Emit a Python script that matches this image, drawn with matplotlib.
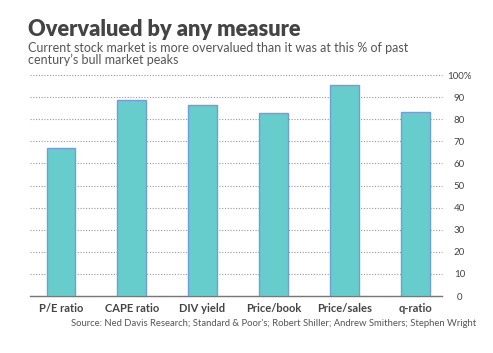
import matplotlib
matplotlib.use("Agg")
import matplotlib.pyplot as plt
import numpy as np

# values (% of past bull market peaks)
categories = ["P/E ratio", "CAPE ratio", "DIV yield", "Price/book", "Price/sales", "q-ratio"]
values = [66.8, 88.9, 86.2, 82.9, 95.3, 83.4]
y_ticks = [0, 10, 20, 30, 40, 50, 60, 70, 80, 90, 100]
y_tick_labels = ["0", "10", "20", "30", "40", "50", "60", "70", "80", "90", "100%"]

TEXT = "#444444"
plt.rcParams['font.family'] = ['Lato', 'DejaVu Sans']

W, H = 493, 353
fig = plt.figure(figsize=(W / 100, H / 100), dpi=100)
fig.patch.set_facecolor("white")

# axes box in pixel terms: x 30..442, y 75..296
ax = fig.add_axes([30 / W, 1 - 296 / H, 412 / W, (296 - 75) / H])
x = np.arange(len(categories))
ax.bar(x, values, width=0.4, color="#66CCCC", edgecolor="#6F9FDB", linewidth=1.0, zorder=3)

ax.set_xlim(-0.433, 5.376)
ax.set_ylim(0, 100)
ax.set_yticks(y_ticks)
ax.set_yticklabels(y_tick_labels)
ax.yaxis.tick_right()
ax.tick_params(axis="y", length=0, pad=12.5, labelsize=7, labelcolor=TEXT)
ax.tick_params(axis="x", length=0, pad=5, labelsize=8, labelcolor=TEXT)
ax.set_xticks(x)
ax.set_xticklabels(categories, fontweight="bold")
for lab in ax.get_yticklabels():
    lab.set_horizontalalignment("center")

ax.grid(axis="y", linestyle=(0, (1, 1.5)), color="#999999", linewidth=0.8, zorder=0)
ax.set_axisbelow(True)
for s in ["top", "left", "right"]:
    ax.spines[s].set_visible(False)
ax.spines["bottom"].set_color("#777777")
ax.spines["bottom"].set_linewidth(1.0)
for gl in ax.yaxis.get_gridlines():
    gl.set_clip_on(False)

fig.text(28 / W, 1 - 36 / H, "Overvalued by any measure", fontsize=15.7,
         fontweight="heavy", color="#444444", va="baseline", ha="left")
fig.text(28 / W, 1 - 52 / H, "Current stock market is more overvalued than it was at this % of past",
         fontsize=9.0, color="#555555", va="baseline", ha="left")
fig.text(28 / W, 1 - 64.5 / H, "century\u2019s bull market peaks",
         fontsize=9.0, color="#555555", va="baseline", ha="left")
fig.text(476 / W, 1 - 325.5 / H,
         "Source: Ned Davis Research; Standard & Poor's; Robert Shiller; Andrew Smithers; Stephen Wright",
         fontsize=6.8, color="#555555", va="baseline", ha="right")

fig.savefig("out.png", dpi=100, facecolor="white")
